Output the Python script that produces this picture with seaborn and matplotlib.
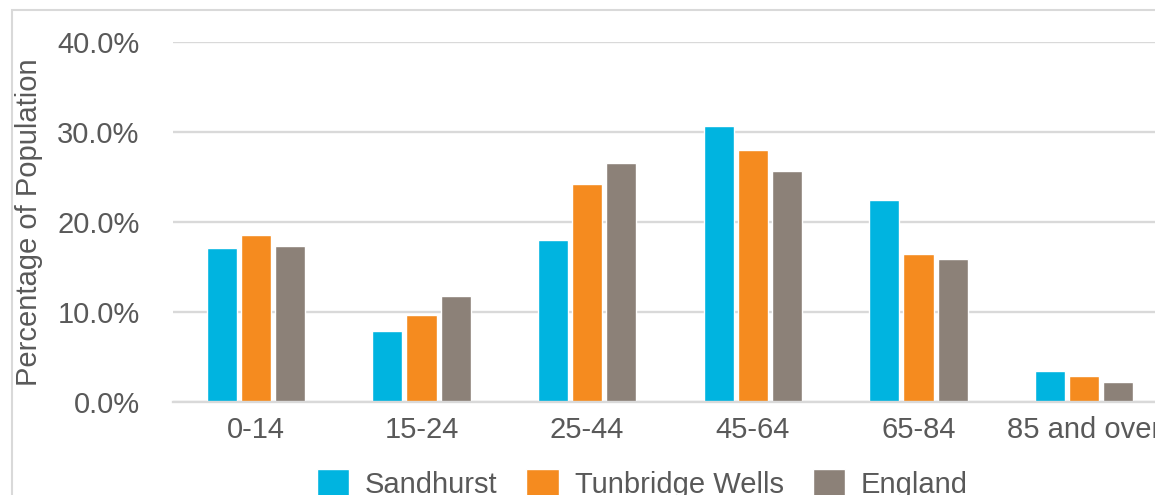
import matplotlib.pyplot as plt
import matplotlib.ticker as mtick
from matplotlib.patches import Rectangle
import pandas as pd
import seaborn as sns

# Data
age_groups = ["0-14", "15-24", "25-44", "45-64", "65-84", "85 and over"]
sandhurst = [0.171, 0.079, 0.180, 0.307, 0.224, 0.034]
tunbridge_wells = [0.186, 0.097, 0.242, 0.280, 0.164, 0.029]
england = [0.173, 0.118, 0.266, 0.257, 0.159, 0.022]
areas = ["Sandhurst", "Tunbridge Wells", "England"]
colors = ["#00B4E0", "#F58B1F", "#8C8178"]

rows = []
for area, vals in zip(areas, [sandhurst, tunbridge_wells, england]):
    for grp, v in zip(age_groups, vals):
        rows.append({"age": grp, "area": area, "pct": v})
df = pd.DataFrame(rows)

sns.set_theme(style="white")
plt.rcParams["font.family"] = ["Liberation Sans", "DejaVu Sans"]
text_color = "#595959"
grid_color = "#D9D9D9"
fs = 21

W, H = 1155, 495
fig = plt.figure(figsize=(W / 100, H / 100), dpi=100)

# chart area border (top and left visible, rest cropped)
fig.patches.append(Rectangle((12 / W, -0.1), 1.2, (H - 10) / H + 0.1,
                             transform=fig.transFigure, fill=False,
                             edgecolor=grid_color, linewidth=1.5))

# plot area: left 173px, right 1167px (cropped), y 0% at 402px, 40% at 42px
ax = fig.add_axes([173 / W, (H - 402) / H, (1167 - 173) / W, 360 / H])

sns.barplot(data=df, x="age", y="pct", hue="area", hue_order=areas,
            palette=colors, width=0.62, gap=0.12, saturation=1,
            ax=ax, legend=True)

ax.set_ylim(0, 0.40)
ax.set_yticks([0, 0.1, 0.2, 0.3, 0.4])
ax.yaxis.set_major_formatter(mtick.PercentFormatter(1.0, decimals=1))
ax.yaxis.grid(True, color=grid_color, linewidth=1.7)
ax.set_axisbelow(True)
for side in ["top", "right", "left"]:
    ax.spines[side].set_visible(False)
ax.spines["bottom"].set_color(grid_color)
ax.spines["bottom"].set_linewidth(1.7)

ax.tick_params(axis="both", length=0, labelsize=fs, colors=text_color)
ax.tick_params(axis="y", pad=24)
ax.tick_params(axis="x", pad=10)
ax.set_xlabel("")
ax.set_ylabel("Percentage of Population", fontsize=fs, color=text_color)
ax.yaxis.set_label_coords(-0.131, 0.5)

ax.legend(loc="center", bbox_to_anchor=(0.556, 11 / H), bbox_transform=fig.transFigure,
          ncol=3, frameon=False, fontsize=fs, labelcolor=text_color,
          handlelength=1.1, handleheight=1.1, handletextpad=0.55, columnspacing=1.0)

fig.savefig("out.png", dpi=100)
